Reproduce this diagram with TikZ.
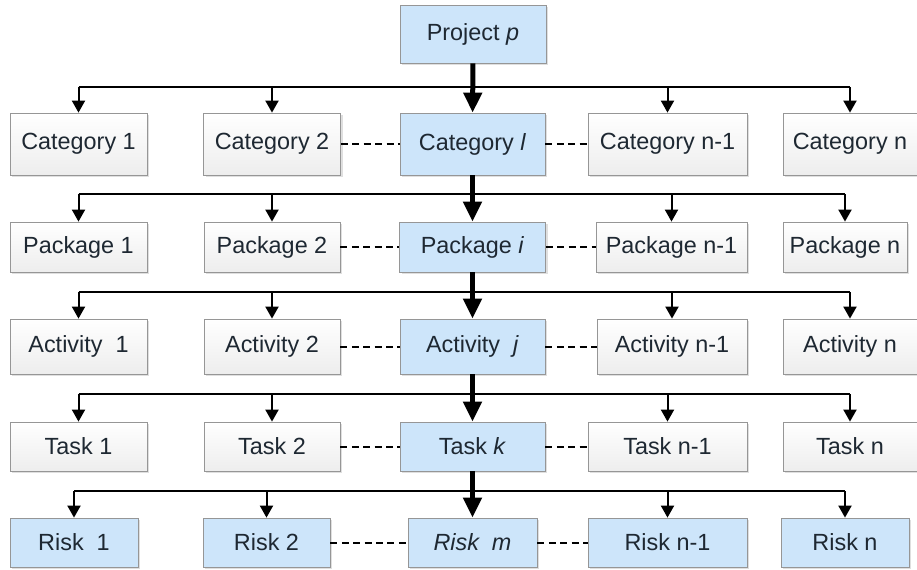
\documentclass[tikz,border=0pt]{standalone}
\usepackage{fontspec}
\setmainfont{Liberation Sans}
\usepackage{tikz}
\usetikzlibrary{arrows.meta, shadows, calc}

\definecolor{boxblue}{RGB}{205,229,250}
\definecolor{boxline}{RGB}{150,150,150}
\definecolor{boxtext}{RGB}{30,40,50}

\tikzstyle{level} = [
  rectangle, draw=boxline, top color=white, bottom color=gray!14,
  text=boxtext, inner sep=0pt,
  font=\fontsize{11.7}{14}\selectfont,
  drop shadow={shadow xshift=1pt, shadow yshift=-1pt, opacity=0.25}
]
\tikzstyle{focus} = [level, top color=boxblue, bottom color=boxblue]
\tikzstyle{arrow} = [-{Triangle[length=6pt, width=6.5pt]}, line width=1pt]
\tikzstyle{mainarrow} = [-{Triangle[length=10pt, width=9pt]}, line width=2.5pt]
\tikzstyle{bus} = [line width=1pt]
\tikzstyle{link} = [line width=1pt, dash pattern=on 3.5pt off 2.2pt]

\begin{document}
\begin{tikzpicture}[x=0.5pt, y=-0.5pt]

  \useasboundingbox (0,0) rectangle (917,569);

  % Project
  \node[focus, minimum width=73pt, minimum height=29pt] (proj) at (473,34) {Project \textit{p}};

  % Categories
  \node[level, minimum width=68.5pt, minimum height=31pt] (cat1) at (78.5,144) {Category 1};
  \node[level, minimum width=68.5pt, minimum height=31pt] (cat2) at (272,144) {Category 2};
  \node[focus, minimum width=72.5pt, minimum height=31pt] (catl) at (472.5,144) {Category \textit{l}};
  \node[level, minimum width=79.5pt, minimum height=31pt] (catn1) at (667.5,144) {Category n-1};
  \node[level, minimum width=67pt, minimum height=31pt] (catn) at (850,144) {Category n};

  % Packages
  \node[level, minimum width=68.5pt, minimum height=25pt] (pkg1) at (78.5,247) {Package 1};
  \node[level, minimum width=68pt, minimum height=25pt] (pkg2) at (272,247) {Package 2};
  \node[focus, minimum width=73pt, minimum height=25pt] (pkgi) at (472.5,247) {Package \textit{i}};
  \node[level, minimum width=75.5pt, minimum height=25pt] (pkgn1) at (671.5,247) {Package n-1};
  \node[level, minimum width=62pt, minimum height=25pt] (pkgn) at (845,247) {Package n};

  % Activities
  \node[level, minimum width=68.5pt, minimum height=27.5pt] (act1) at (78.5,346.5) {Activity~~1};
  \node[level, minimum width=68pt, minimum height=27.5pt] (act2) at (272,346.5) {Activity 2};
  \node[focus, minimum width=72.5pt, minimum height=27.5pt] (actj) at (472.5,346.5) {Activity~~\textit{j}};
  \node[level, minimum width=75pt, minimum height=27.5pt] (actn1) at (672,346.5) {Activity n-1};
  \node[level, minimum width=67pt, minimum height=27.5pt] (actn) at (850,346.5) {Activity n};

  % Tasks
  \node[level, minimum width=68.5pt, minimum height=24.5pt] (tsk1) at (78.5,446.5) {Task 1};
  \node[level, minimum width=68pt, minimum height=24.5pt] (tsk2) at (272,446.5) {Task 2};
  \node[focus, minimum width=72.5pt, minimum height=24.5pt] (tskk) at (472.5,446.5) {Task \textit{k}};
  \node[level, minimum width=79.5pt, minimum height=24.5pt] (tskn1) at (667.5,446.5) {Task n-1};
  \node[level, minimum width=67pt, minimum height=24.5pt] (tskn) at (850,446.5) {Task n};

  % Risks
  \node[focus, minimum width=64pt, minimum height=24.5pt] (rsk1) at (74,542.5) {Risk~~1};
  \node[focus, minimum width=63.5pt, minimum height=24.5pt] (rsk2) at (266.5,542.5) {Risk 2};
  \node[focus, minimum width=64.5pt, minimum height=24.5pt] (rskm) at (472.5,542.5) {\textit{Risk~~m}};
  \node[focus, minimum width=79.5pt, minimum height=24.5pt] (rskn1) at (667.5,542.5) {Risk n-1};
  \node[focus, minimum width=64pt, minimum height=24.5pt] (rskn) at (845,542.5) {Risk n};

  % Bus levels
  \coordinate (bus1) at (0,87);
  \coordinate (bus2) at (0,194);
  \coordinate (bus3) at (0,292);
  \coordinate (bus4) at (0,394);
  \coordinate (bus5) at (0,491);

  \draw[bus] (cat1.north |- bus1) -- (catn.north |- bus1);
  \draw[bus] (pkg1.north |- bus2) -- (pkgn.north |- bus2);
  \draw[bus] (act1.north |- bus3) -- (actn.north |- bus3);
  \draw[bus] (tsk1.north |- bus4) -- (tskn.north |- bus4);
  \draw[bus] (rsk1.north |- bus5) -- (rskn.north |- bus5);

  % Branches
  \draw[arrow] (cat1.north |- bus1) -- (cat1.north);
  \draw[arrow] (cat2.north |- bus1) -- (cat2.north);
  \draw[arrow] (catn1.north |- bus1) -- (catn1.north);
  \draw[arrow] (catn.north |- bus1) -- (catn.north);

  \draw[arrow] (pkg1.north |- bus2) -- (pkg1.north);
  \draw[arrow] (pkg2.north |- bus2) -- (pkg2.north);
  \draw[arrow] (pkgn1.north |- bus2) -- (pkgn1.north);
  \draw[arrow] (pkgn.north |- bus2) -- (pkgn.north);

  \draw[arrow] (act1.north |- bus3) -- (act1.north);
  \draw[arrow] (act2.north |- bus3) -- (act2.north);
  \draw[arrow] (actn1.north |- bus3) -- (actn1.north);
  \draw[arrow] (actn.north |- bus3) -- (actn.north);

  \draw[arrow] (tsk1.north |- bus4) -- (tsk1.north);
  \draw[arrow] (tsk2.north |- bus4) -- (tsk2.north);
  \draw[arrow] (tskn1.north |- bus4) -- (tskn1.north);
  \draw[arrow] (tskn.north |- bus4) -- (tskn.north);

  \draw[arrow] (rsk1.north |- bus5) -- (rsk1.north);
  \draw[arrow] (rsk2.north |- bus5) -- (rsk2.north);
  \draw[arrow] (rskn1.north |- bus5) -- (rskn1.north);
  \draw[arrow] (rskn.north |- bus5) -- (rskn.north);

  % Main path
  \draw[mainarrow] (proj) -- (catl);
  \draw[mainarrow] (catl) -- (pkgi);
  \draw[mainarrow] (pkgi) -- (actj);
  \draw[mainarrow] (actj) -- (tskk);
  \draw[mainarrow] (tskk) -- (rskm);

  % Siblings
  \draw[link] (cat2) -- (catl);
  \draw[link] (catl) -- (catn1);
  \draw[link] (pkg2) -- (pkgi);
  \draw[link] (pkgi) -- (pkgn1);
  \draw[link] (act2) -- (actj);
  \draw[link] (actj) -- (actn1);
  \draw[link] (tsk2) -- (tskk);
  \draw[link] (tskk) -- (tskn1);
  \draw[link] (rsk2) -- (rskm);
  \draw[link] (rskm) -- (rskn1);

\end{tikzpicture}
\end{document}
